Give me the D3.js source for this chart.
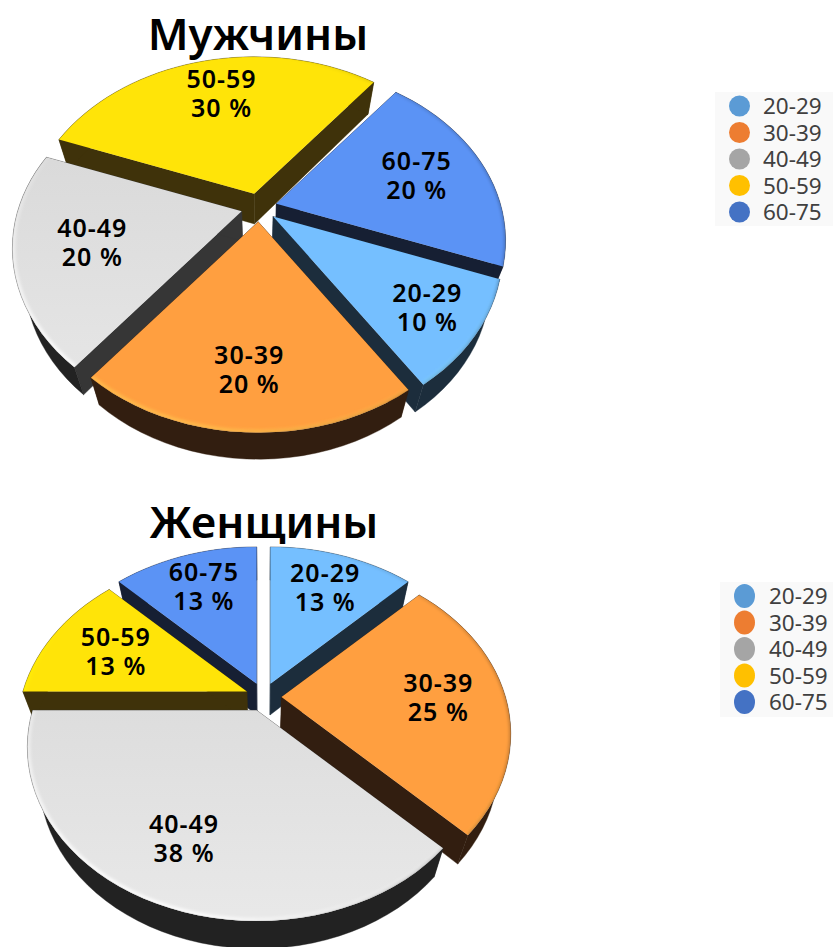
<!DOCTYPE html>
<html><head><meta charset="utf-8">
<script src="https://cdn.jsdelivr.net/npm/d3@7"></script>
<style>html,body{margin:0;padding:0;background:#fff;overflow:hidden}svg{display:block}</style>
</head><body><svg id="c" width="833" height="947"></svg>
<script>
const categories = ["20-29","30-39","40-49","50-59","60-75"];
const menValues = [10,20,20,30,20];
const womenValues = [12.5,25,37.5,12.5,12.5];
const titles = ["Мужчины","Женщины"];
const faceColors = ["#75BFFF","#FF9F40","#DCDCDC","#FFE408","#5B93F5"];
const wallColors = ["#1C2D3C","#321E10","#363636","#3F320A","#161F33"];
const legendColors = ["#5B9BD5","#ED7D31","#A5A5A5","#FFC000","#4472C4"];

const FONT = "'Noto Sans','Open Sans',sans-serif";
const svg = d3.select("#c");
const defs = svg.append("defs");
defs.append("filter").attr("id","soft").attr("x","-10%").attr("y","-10%").attr("width","120%").attr("height","120%")
  .append("feGaussianBlur").attr("stdDeviation",1.5);
const face = d3.scaleOrdinal(categories, faceColors);
const wall = d3.scaleOrdinal(categories, wallColors);
const legendColor = d3.scaleOrdinal(categories, legendColors);

const TAU = Math.PI*2, K=-0.2126, A=224, B=166, EX=18, EY=14.3;
const menNudge = [[19,12],[-1,12],[8,-1],[4,-2],[-5,2]];
const womenNudge = [[2,-1],[0,1],[-3,4],[6,3],[0,-2]];

function drawPie(id, values, cx, cy, startDeg, depth, nudge){
  const pie = d3.pie().sort(null).value(d=>d.v)
    .startAngle(startDeg*Math.PI/180).endAngle(startDeg*Math.PI/180+TAU);
  const arcs = pie(categories.map((c,i)=>({c,v:values[i],i})));
  arcs.forEach(a=>a.mid=(a.startAngle+a.endAngle)/2);
  const proj = (a,t,r)=>{
    const u=Math.sin(t)*r, v=-Math.cos(t)*r, w=1+K*v;
    return [cx+EX*Math.sin(a.mid)+A*u/w, cy-EY*Math.cos(a.mid)+B*v/w];
  };
  const low = p=>[cx+(p[0]-cx)*0.95, cy+(p[1]-cy)*0.985+depth];
  const line = d3.line();
  const order = arcs.slice().sort((p,q)=>(-Math.cos(p.mid))-(-Math.cos(q.mid)));
  const g = svg.append("g");
  order.forEach((a,i)=>{
    const isGray = a.data.c==="40-49";
    const n = Math.max(8,Math.round((a.endAngle-a.startAngle)/(TAU/120)));
    const ts = d3.range(n+1).map(j=>a.startAngle+(a.endAngle-a.startAngle)*j/n);
    const arcP = ts.map(t=>proj(a,t,1));
    const apex = proj(a,0,0);
    const sl = g.append("g");
    const base = wall(a.data.c);
    [arcP[0],arcP[n]].forEach(p=>{
      sl.append("path").attr("d",line([apex,p,low(p),low(apex)])+"Z")
        .attr("fill",base).attr("stroke",base).attr("stroke-width",.4);
    });
    const outerCol = isGray ? "#222222" : base;
    sl.append("path").attr("d",line(arcP.concat(arcP.map(low).reverse()))+"Z")
      .attr("fill",outerCol).attr("stroke",outerCol).attr("stroke-width",.4);
    const clipId=`${id}-clip-${i}`, gradId=`${id}-grad-${i}`;
    const outline=[apex].concat(arcP);
    defs.append("clipPath").attr("id",clipId).append("path").attr("d",line(outline)+"Z");
    const f=d3.color(face(a.data.c));
    const gr=defs.append("linearGradient").attr("id",gradId).attr("gradientUnits","userSpaceOnUse")
      .attr("x1",cx).attr("x2",cx).attr("y1",cy-140).attr("y2",cy+215);
    gr.append("stop").attr("offset",0).attr("stop-color",isGray?"#D5D5D5":f);
    gr.append("stop").attr("offset",1).attr("stop-color",isGray?"#E8E8E8":f);
    sl.append("path").attr("d",line(outline)+"Z").attr("fill",`url(#${gradId})`);
    const bevel=sl.append("g").attr("clip-path",`url(#${clipId})`);
    const soft=bevel.append("g").attr("filter","url(#soft)");
    const glow = isGray ? "#ffffff" : f.brighter(0.5);
    for(let j=0;j<n;j++){
      const tm=(ts[j]+ts[j+1])/2;
      const lit=Math.cos(tm-(205*Math.PI/180)), dark=Math.cos(tm-(100*Math.PI/180));
      const seg=[arcP[j],arcP[j+1]];
      if(lit>0) soft.append("path").attr("d",line(seg)).attr("fill","none").attr("stroke",glow)
        .attr("stroke-width",6).attr("stroke-opacity",0.8*lit);
      if(dark>0) soft.append("path").attr("d",line(seg)).attr("fill","none").attr("stroke","#000")
        .attr("stroke-width",3).attr("stroke-opacity",0.22*dark);
    }
    bevel.append("path").attr("d",line(arcP)).attr("fill","none").attr("stroke","#333")
      .attr("stroke-width",.7).attr("stroke-opacity",.2);
  });
  const labels=svg.append("g").attr("font-family",FONT).attr("font-weight",600)
    .attr("font-size",25).attr("text-anchor","middle").attr("fill","#000");
  arcs.forEach(a=>{
    const p=proj(a,a.mid,0.7), nd=nudge[a.data.i];
    const t=labels.append("text").attr("letter-spacing",1);
    t.append("tspan").attr("x",p[0]+nd[0]).attr("y",p[1]+nd[1]-6).text(a.data.c);
    t.append("tspan").attr("x",p[0]+nd[0]).attr("y",p[1]+nd[1]+23).text(Math.round(a.data.v)+" %");
  });
}

function drawLegend(x,y,w,h,cxDot,rx,ry,xText,ys){
  const g=svg.append("g");
  g.append("rect").attr("x",x).attr("y",y).attr("width",w).attr("height",h).attr("fill","#F9F9F9");
  categories.forEach((c,i)=>{
    g.append("ellipse").attr("cx",cxDot).attr("cy",ys(i)).attr("rx",rx).attr("ry",ry).attr("fill",legendColor(c));
    g.append("text").attr("x",xText).attr("y",ys(i)+8).attr("font-family",FONT).attr("font-size",22.5)
      .attr("fill","#404040").text(c);
  });
}

drawPie("m",menValues,259,207.5,110.5,30,menNudge);
drawPie("w",womenValues,263.5,697,0,31,womenNudge);

svg.append("text").attr("x",258).attr("y",50).attr("text-anchor","middle").attr("font-family",FONT)
  .attr("font-weight",600).attr("font-size",44).text(titles[0]);
svg.append("text").attr("x",264).attr("y",538).attr("text-anchor","middle").attr("font-family",FONT)
  .attr("font-weight",600).attr("font-size",44).text(titles[1]);

drawLegend(715,92,118,134,739.5,10.5,10.5,763,d3.scaleLinear().domain([0,4]).range([106,212]));
drawLegend(720,582,113,135,744.5,10.5,12,769,d3.scaleLinear().domain([0,4]).range([596,702]));
</script></body></html>
